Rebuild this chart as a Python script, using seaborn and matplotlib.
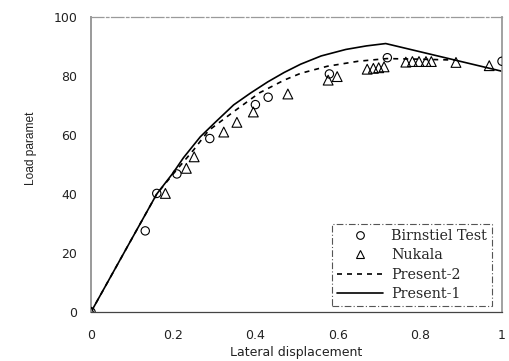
import numpy as np
import pandas as pd
import matplotlib
matplotlib.use("Agg")
import matplotlib.pyplot as plt
import seaborn as sns
from matplotlib.transforms import Bbox, TransformedBbox
from matplotlib.lines import Line2D

# ---- data ----
birn_x = [0.0, 0.132, 0.160, 0.209, 0.289, 0.400, 0.431, 0.580, 0.721, 1.000]
birn_y = [0.0, 27.5, 40.2, 46.8, 58.8, 70.3, 72.8, 80.7, 86.2, 85.0]

nuk_x = [0.0, 0.181, 0.232, 0.251, 0.323, 0.355, 0.395, 0.479, 0.577, 0.599,
         0.672, 0.687, 0.700, 0.713, 0.766, 0.782, 0.798, 0.815, 0.828, 0.888, 0.969]
nuk_y = [0.0, 40.2, 48.7, 52.6, 61.0, 64.3, 67.8, 73.9, 78.6, 79.8,
         82.3, 82.6, 82.8, 83.1, 84.7, 84.9, 84.9, 84.9, 84.9, 84.6, 83.5]

p1_x = [0, 0.08, 0.16, 0.2, 0.225, 0.266, 0.3, 0.347, 0.388, 0.43, 0.47, 0.51,
        0.56, 0.62, 0.67, 0.717, 1.0]
p1_y = [0, 20, 40, 47.2, 52.3, 59.4, 64.0, 70.2, 74.2, 78.0, 81.2, 84.0,
        86.8, 89.0, 90.2, 91.0, 81.6]

p2_x = [0, 0.08, 0.16, 0.2, 0.25, 0.286, 0.347, 0.41, 0.47, 0.51, 0.575, 0.65,
        0.72, 0.8, 0.885]
p2_y = [0, 20, 40, 46.8, 55.0, 61.5, 67.9, 74.3, 78.6, 80.9, 83.3, 85.0,
        85.9, 85.7, 85.4]

x_ticks = [0, 0.2, 0.4, 0.6, 0.8, 1]
x_ticklabels = ["0", "0.2", "0.4", "0.6", "0.8", "1"]
y_ticks = [0, 20, 40, 60, 80, 100]

sns.set_style("white")
plt.rcParams["font.family"] = ["DejaVu Sans"]

fig = plt.figure(figsize=(5.09, 3.61), dpi=100)
ax = fig.add_axes([91 / 509, 1 - 312 / 361, 411 / 509, 295 / 361])

df1 = pd.DataFrame({"x": p1_x, "y": p1_y})
df2 = pd.DataFrame({"x": p2_x, "y": p2_y})
dfb = pd.DataFrame({"x": birn_x, "y": birn_y})
dfn = pd.DataFrame({"x": nuk_x, "y": nuk_y})

sns.lineplot(data=df1, x="x", y="y", ax=ax, color="black", lw=1.2, sort=False)
sns.lineplot(data=df2, x="x", y="y", ax=ax, color="black", lw=1.2, sort=False,
             linestyle=(0, (3, 3)))
sns.scatterplot(data=dfb, x="x", y="y", ax=ax, marker="o", s=36,
                facecolor="none", edgecolor="black", linewidth=0.8, zorder=3)
sns.scatterplot(data=dfn, x="x", y="y", ax=ax, marker="^", s=50,
                facecolor="none", edgecolor="black", linewidth=0.8, zorder=3)

ax.set_xlim(0, 1)
ax.set_ylim(0, 100)
ax.set_xticks(x_ticks)
ax.set_xticklabels(x_ticklabels)
ax.set_yticks(y_ticks)

ax.tick_params(axis="x", direction="in", length=3, width=0.8, color="#444444",
               pad=12, labelsize=9, labelcolor="#222222")
ax.tick_params(axis="y", direction="in", length=3, width=0.8, color="#888888",
               pad=10, labelsize=9, labelcolor="#222222")

ax.spines["left"].set_color("#9a9a9a")
ax.spines["left"].set_linewidth(1.4)
ax.spines["bottom"].set_color("#444444")
ax.spines["bottom"].set_linewidth(0.9)
ax.spines["top"].set_color("#9a9a9a")
ax.spines["top"].set_linewidth(0.9)
ax.spines["top"].set_linestyle((0, (10, 2, 2, 2)))
ax.spines["right"].set_color("#9a9a9a")
ax.spines["right"].set_linewidth(1.3)
for sp in ax.spines.values():
    sp.set_visible(True)

ax.set_xlabel("Lateral displacement", fontsize=9, color="#222222")
ax.xaxis.set_label_coords(0.5, -0.115)
ax.set_ylabel("Load parameter", fontsize=8.6, color="#222222",
              family="Liberation Sans")
lab = ax.yaxis.label
lab.set_ha("left")
lab.set_va("center")
ax.yaxis.set_label_coords(-0.146, (312 - 185) / 295)
clip = TransformedBbox(Bbox.from_extents(0, 0, 1, (361 - 112) / 361), fig.transFigure)
lab.set_clip_box(clip)
lab.set_clip_on(True)

handles = [
    Line2D([], [], marker="o", ls="none", mfc="none", mec="black", ms=5.5, mew=0.8),
    Line2D([], [], marker="^", ls="none", mfc="none", mec="black", ms=6, mew=0.8),
    Line2D([], [], color="black", lw=1.2, ls=(0, (3, 3))),
    Line2D([], [], color="black", lw=1.2),
]
labels = ["Birnstiel Test", "Nukala", "Present-2", "Present-1"]
leg = ax.legend(handles, labels, loc="lower right", bbox_to_anchor=(0.975, 0.02),
                prop={"family": "DejaVu Serif", "size": 10.3},
                frameon=True, fancybox=False, framealpha=1, edgecolor="#555555",
                handlelength=3.2, handletextpad=0.55, labelspacing=0.38,
                borderpad=0.35, borderaxespad=0.0)
leg.get_frame().set_linewidth(0.8)
leg.get_frame().set_linestyle((0, (6, 2, 1, 2)))

fig.savefig("out.png", dpi=100)
